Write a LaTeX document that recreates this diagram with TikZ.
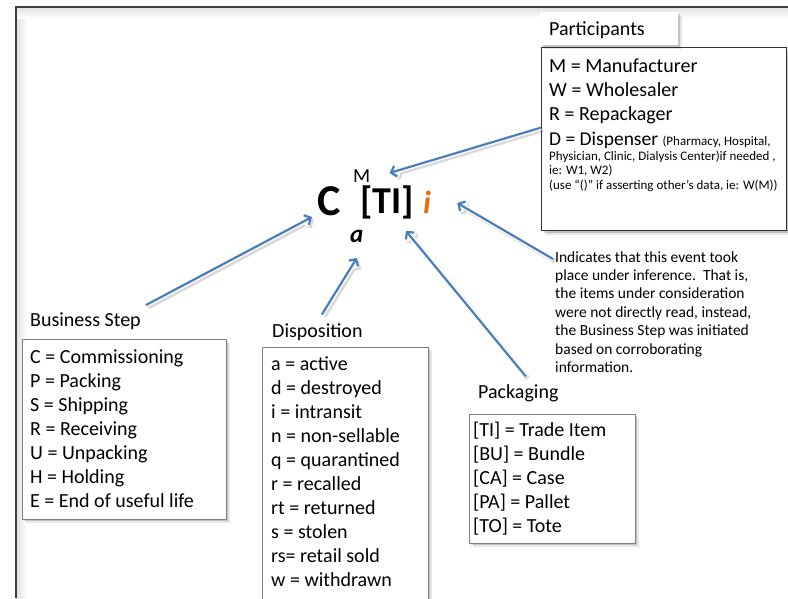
\documentclass[tikz,border=0pt]{standalone}
\usepackage{fontspec}
\setmainfont{Carlito}
\usetikzlibrary{arrows.meta,shadows}
\definecolor{arrowblue}{HTML}{4A7EBB}
\definecolor{inforange}{HTML}{E46C0A}
\definecolor{framegray}{HTML}{404040}
\begin{document}
\begin{tikzpicture}[x=1pt,y=-1pt,
  listtext/.style={anchor=base west, inner sep=0pt, font=\fontsize{20}{24}\selectfont},
  titletext/.style={anchor=base west, inner sep=0pt, font=\fontsize{20}{24}\selectfont},
  inftext/.style={anchor=base west, inner sep=0pt, font=\fontsize{15.5}{18.5}\selectfont},
  smalltext/.style={anchor=base west, inner sep=0pt, font=\fontsize{13}{14.5}\selectfont},
  formula/.style={anchor=base west, inner sep=0pt},
  boxshadow/.style={drop shadow={shadow xshift=4pt, shadow yshift=-4pt, opacity=0.10, fill=black},
                    drop shadow={shadow xshift=2pt, shadow yshift=-2pt, opacity=0.15, fill=black}},
  listbox/.style={draw=black!50, line width=0.8pt, fill=white, anchor=north west, inner sep=0pt, boxshadow},
  callout/.style={draw=arrowblue, line width=2.2pt, -{Straight Barb[length=5pt,width=11pt]},
     preaction={draw=black, opacity=0.15, line width=5pt, transform canvas={shift={(2pt,-2pt)}}},
     preaction={draw=white, line width=5pt}}
]
\useasboundingbox (0,0) rectangle (788,598);
\clip (0,0) rectangle (788,598);

% outer frame with inner shadow
\fill[left color=black!12, right color=white] (16,7) rectangle (27,598);
\fill[top color=black!12, bottom color=white] (16,7) rectangle (788,18);
\draw[framegray, line width=2pt] (15.5,598) -- (15.5,6.5) -- (788,6.5);

% boxes
\node[listbox, minimum width=204pt, minimum height=180pt] (bsbox) at (22,339) {};
\node[listbox, minimum width=166pt, minimum height=280pt] (dbox) at (262,347) {};
\node[listbox, minimum width=166pt, minimum height=129pt] (pkbox) at (469,414) {};
\node[listbox, draw=black!80, line width=1.2pt, minimum width=245pt, minimum height=183pt] (ppbox) at (541,47) {};
\node[fill=white, anchor=north west, inner sep=0pt, minimum width=138pt, minimum height=33pt, boxshadow] (pttbox) at (540,12) {};

% titles
\node[titletext] (ptitle) at (549,35) {Participants};
\node[titletext] (bstitle) at (30,326) {Business Step};
\node[titletext] (dtitle) at (272,337) {Disposition};
\node[titletext] (pktitle) at (478,398) {Packaging};

% business step list
\foreach \t [count=\k] in {C = Commissioning, P = Packing, S = Shipping, R = Receiving, U = Unpacking, H = Holding, E = End of useful life}
  \node[listtext] (bs\k) at (30,{363+24*(\k-1)}) {\t};

% disposition list
\foreach \t [count=\k] in {a = active, d = destroyed, i = intransit, n = non-sellable, q = quarantined, r = recalled, rt = returned, s = stolen, rs= retail sold, w = withdrawn}
  \node[listtext] (d\k) at (271,{370+24*(\k-1)}) {\t};

% packaging list
\foreach \t [count=\k] in {{[TI] = Trade Item}, {[BU] = Bundle}, {[CA] = Case}, {[PA] = Pallet}, {[TO] = Tote}}
  \node[listtext] (pk\k) at (473,{436+24*(\k-1)}) {\t};

% participants list
\node[listtext] (pp1) at (549,72) {M = Manufacturer};
\node[listtext] (pp2) at (549,96) {W = Wholesaler};
\node[listtext] (pp3) at (549,120) {R = Repackager};
\node[formula] (pp4) at (549,145) {\fontsize{19.5}{24}\selectfont D = Dispenser \fontsize{13}{14.5}\selectfont(Pharmacy, Hospital,};
\node[smalltext] (pp5) at (549,160) {Physician, Clinic, Dialysis Center)if needed ,};
\node[smalltext] (pp6) at (549,174.5) {ie: W1, W2)};
\node[smalltext] (pp7) at (549,189) {(use “()” if asserting other’s data, ie: W(M))};

% inference note
\foreach \t [count=\k] in {{Indicates that this event took}, {place under inference.\ \ That is,}, {the items under consideration}, {were not directly read, instead,}, {the Business Step was initiated}, {based on corroborating}, {information.}}
  \node[inftext] (inf\k) at (555,{262+18.4*(\k-1)}) {\t};

% formula
\node[formula, font=\fontsize{44}{48}\selectfont\bfseries] (fC) at (317,215) {C};
\node[formula, font=\fontsize{20}{24}\selectfont] (fM) at (353,182) {M};
\node[formula, font=\fontsize{38}{42}\selectfont\bfseries] (fTI) at (360,213) {[TI]};
\node[formula, font=\fontsize{32}{36}\selectfont\bfseries\itshape, text=inforange] (fi) at (423,213) {i};
\node[formula, font=\fontsize{25}{30}\selectfont\bfseries\itshape] (fa) at (350,242) {a};

% callout arrows
\draw[callout] ([yshift=11.5pt]ppbox.west) -- ([shift={(19pt,9pt)}]fM.base east);
\draw[callout] ([shift={(5pt,7pt)}]bstitle.north east) -- ([shift={(-5pt,-2pt)}]fC.base west);
\draw[callout] ([shift={(4.5pt,8.5pt)}]dtitle.north) -- ([yshift=-16pt]fa.base);
\draw[callout] ([shift={(7.5pt,7.5pt)}]pktitle.north) -- ([shift={(-8pt,-18pt)}]fTI.base east);
\draw[callout] ([shift={(-2pt,3pt)}]inf1.base west) -- ([shift={(26pt,10pt)}]fi.base east);
\end{tikzpicture}
\end{document}
